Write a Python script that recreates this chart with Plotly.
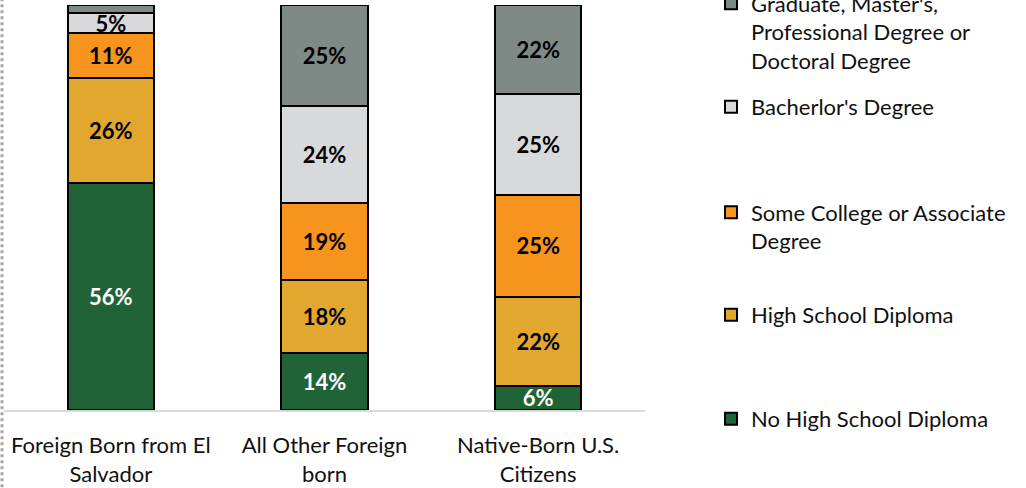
import plotly.graph_objects as go

categories = ["Foreign Born from El<br>Salvador", "All Other Foreign<br>born", "Native-Born U.S.<br>Citizens"]
series_names = [
    "No High School Diploma",
    "High School Diploma",
    "Some College or Associate<br>Degree",
    "Bacherlor's Degree",
    "Graduate, Master's,<br>Professional Degree or<br>Doctoral Degree",
]
no_hs = [56, 14, 6]
high_school = [26, 18, 22]
some_college = [11, 19, 25]
bachelor = [5, 24, 25]
graduate = [2, 25, 22]

colors = ["#1F6337", "#E2A72F", "#F7941E", "#D8D9DA", "#7F8985"]
text_colors = ["#FFFFFF", "#000000", "#000000", "#000000", "#000000"]
values = [no_hs, high_school, some_college, bachelor, graduate]

FONT = "Lato"
FS = 22
W, H = 1026, 488
PLOT_TOP, PLOT_BOTTOM = 5, 410
# legend block vertical centres (pixels from the top of the figure)
legend_mid_px = [419, 315, 227, 107, 32]

fig = go.Figure()
for i, (name, vals) in enumerate(zip(series_names, values)):
    lg = "legend" if i == 0 else f"legend{i+1}"
    fig.add_trace(go.Bar(
        x=categories, y=vals, name=name,
        marker=dict(color=colors[i], line=dict(color="#000000", width=2)),
        text=[f"{v}%" if v >= 4 else "" for v in vals],
        textposition="inside", insidetextanchor="middle", textangle=0,
        insidetextfont=dict(family=FONT, size=FS, color=text_colors[i], weight="bold"),
        cliponaxis=False,
        legend=lg, hoverinfo="skip",
    ))

layout_legends = {}
for i, mid_px in enumerate(legend_mid_px):
    key = "legend" if i == 0 else f"legend{i+1}"
    layout_legends[key] = dict(
        xref="container", yref="container",
        x=711 / W, xanchor="left",
        y=(H - mid_px) / H, yanchor="middle",
        font=dict(family=FONT, size=FS, color="#111111"),
        bgcolor="rgba(0,0,0,0)", borderwidth=0, valign="top",
    )

fig.update_layout(
    barmode="stack", bargap=0.597,
    width=W, height=H,
    margin=dict(l=4, r=381, t=PLOT_TOP, b=H - PLOT_BOTTOM, autoexpand=False),
    paper_bgcolor="#FFFFFF", plot_bgcolor="#FFFFFF",
    showlegend=True,
    uniformtext=dict(mode="show", minsize=FS),
    font=dict(family=FONT, size=FS, color="#111111"),
    **layout_legends,
)
fig.update_yaxes(range=[0, 100], visible=False, showgrid=False)
fig.update_xaxes(showline=True, linecolor="#D9D9D9", linewidth=2, ticks="", automargin=False,
                 ticklabelstandoff=15,
                 tickfont=dict(family=FONT, size=FS, color="#111111"), showgrid=False)
fig.add_shape(type="line", xref="paper", yref="paper",
              x0=-2 / 641, x1=-2 / 641, y0=-0.25, y1=1.05,
              line=dict(color="#A6A6A6", width=3, dash="dot"))
fig.write_html("out.html", config={"displayModeBar": False},
               post_script="document.body.style.margin='0';")
